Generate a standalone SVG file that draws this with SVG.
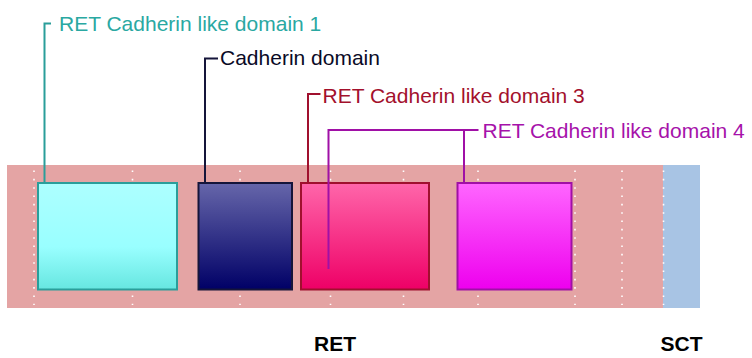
<svg xmlns="http://www.w3.org/2000/svg" width="752" height="358" viewBox="0 0 752 358">
<defs>
<linearGradient id="g1" x1="0" y1="0" x2="0" y2="1"><stop offset="0" stop-color="#adffff"/><stop offset="0.6" stop-color="#99ffff"/><stop offset="1" stop-color="#66e6e0"/></linearGradient>
<linearGradient id="g2" x1="0" y1="0" x2="0" y2="1"><stop offset="0" stop-color="#6666aa"/><stop offset="1" stop-color="#000066"/></linearGradient>
<linearGradient id="g3" x1="0" y1="0" x2="0" y2="1"><stop offset="0" stop-color="#ff66aa"/><stop offset="1" stop-color="#ee0066"/></linearGradient>
<linearGradient id="g4" x1="0" y1="0" x2="0" y2="1"><stop offset="0" stop-color="#ff66ff"/><stop offset="1" stop-color="#ee00ee"/></linearGradient>
</defs>
<style>
.lbl{font-family:"Liberation Sans",Arial,sans-serif;font-size:21px}
.reg{font-family:"Liberation Sans",Arial,sans-serif;font-size:21px;font-weight:bold;fill:#000}
.dot{stroke:#ffffff;stroke-width:1.6;stroke-dasharray:1.6 6.73;fill:none}
.lead{fill:none;stroke-width:2}
.box{stroke-width:2}
</style>
<g id="regions">
<rect x="7" y="165" width="656" height="143" fill="#e4a4a4"/>
<rect x="663" y="165" width="37" height="143" fill="#a8c4e4"/>
<g id="grid">
<line class="dot" x1="34" y1="170.5" x2="34" y2="305"/>
<line class="dot" x1="132.5" y1="170.5" x2="132.5" y2="305"/>
<line class="dot" x1="240" y1="170.5" x2="240" y2="305"/>
<line class="dot" x1="330.5" y1="170.5" x2="330.5" y2="305"/>
<line class="dot" x1="403.5" y1="170.5" x2="403.5" y2="305"/>
<line class="dot" x1="478" y1="170.5" x2="478" y2="305"/>
<line class="dot" x1="575" y1="170.5" x2="575" y2="305"/>
<line class="dot" x1="622" y1="170.5" x2="622" y2="305"/>
<line class="dot" x1="663.5" y1="170.5" x2="663.5" y2="305"/>
</g>
<text class="reg" x="335" y="350.5" text-anchor="middle">RET</text>
<text class="reg" x="681.5" y="350.5" text-anchor="middle">SCT</text>
</g>
<g id="node1">
<rect class="box" x="38" y="183" width="139" height="106.5" fill="url(#g1)" stroke="#2a9e9a"/>
<text class="lbl" x="59" y="31" fill="#2aa8a2">RET Cadherin like domain 1</text>
</g>
<g id="node2">
<rect class="box" x="198.5" y="183" width="93.5" height="106.5" fill="url(#g2)" stroke="#15153a"/>
<text class="lbl" x="220" y="65" fill="#0a0a26">Cadherin domain</text>
</g>
<g id="node3">
<rect class="box" x="301" y="183" width="128" height="106.5" fill="url(#g3)" stroke="#a0102e"/>
<text class="lbl" x="322.5" y="102.5" fill="#a3102c">RET Cadherin like domain 3</text>
</g>
<g id="node4">
<rect class="box" x="457.5" y="183" width="114" height="106.5" fill="url(#g4)" stroke="#a010a6"/>
<text class="lbl" x="482.5" y="137.5" fill="#a612aa">RET Cadherin like domain 4</text>
</g>
<g id="connectors">
<path class="lead" d="M51 23.5 H44.5 V183" stroke="#2a9e9a"/>
<path class="lead" d="M218 58.5 H205 V183" stroke="#15153a"/>
<path class="lead" d="M320.5 94 H308 V183" stroke="#a0102e"/>
<path class="lead" d="M478.5 130 H328.5 V269" stroke="#a010a6"/>
<path class="lead" d="M464 130 V183" stroke="#a010a6"/>
</g>
</svg>
